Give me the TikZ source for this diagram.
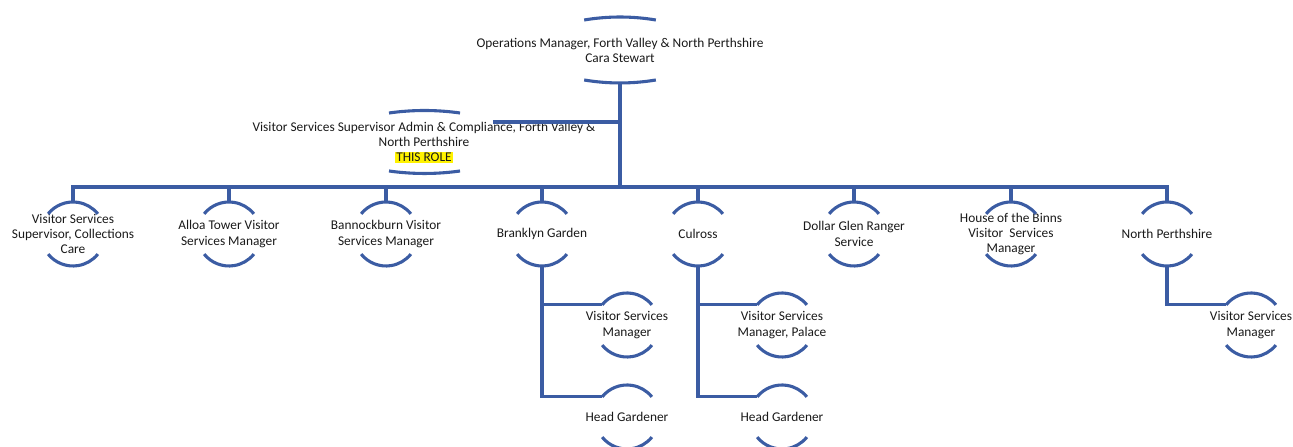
\documentclass[tikz,border=0pt]{standalone}
\usepackage{fontspec}
\setmainfont{Carlito}
\definecolor{chartblue}{RGB}{59,92,163}

\begin{document}
\begin{tikzpicture}[x=0.25mm,y=0.25mm,
  link/.style={draw=chartblue,line width=2.2pt},
  role/.style={align=center,font=\fontsize{9.5}{10.9}\selectfont,inner sep=0pt,text=black!90}]

  \useasboundingbox (0,0) rectangle (1293,447);

  % Top
  \node[role] (ops) at (620,396.5) {Operations Manager, Forth Valley \& North Perthshire\\Cara Stewart};
  \coordinate (opsb) at (620,364);
  \coordinate (hub) at (620,260);
  \draw[link] (584.2,427) arc[start angle=99.5,end angle=80.5,radius=54.25mm];
  \draw[link] (584.2,367) arc[start angle=260.5,end angle=279.5,radius=54.25mm];

  % Assistant
  \node[role] (asst) at (424,304.5) {Visitor Services Supervisor Admin \& Compliance, Forth Valley \&\\North Perthshire\\{\fboxsep=0.6pt\colorbox{yellow}{THIS ROLE}}};
  \coordinate (asstr) at (493,325);
  \draw[link] (389,334) arc[start angle=98,end angle=82,radius=63.8mm];
  \draw[link] (389,276) arc[start angle=262,end angle=278,radius=63.8mm];

  % Second level
  \node[role] (vsc) at (73,213) {Visitor Services\\Supervisor, Collections\\Care};
  \node[role] (alloa) at (229,213) {Alloa Tower Visitor\\Services Manager};
  \node[role] (bann) at (386,213) {Bannockburn Visitor\\Services Manager};
  \node[role] (brank) at (542,213) {Branklyn Garden};
  \node[role] (cul) at (698,213) {Culross};
  \node[role] (dollar) at (854,213) {Dollar Glen Ranger\\Service};
  \node[role] (binns) at (1011,213) {House of the Binns\\Visitor\ \ Services\\Manager};
  \node[role] (north) at (1167,213) {North Perthshire};

  % Third level
  \node[role] (bvsm) at (627,122) {Visitor Services\\Manager};
  \node[role] (bhg) at (627,30) {Head Gardener};
  \node[role] (cvsm) at (782,122) {Visitor Services\\Manager, Palace};
  \node[role] (chg) at (782,30) {Head Gardener};
  \node[role] (nvsm) at (1251,122) {Visitor Services\\Manager};

  % Arcs
  \foreach \n in {vsc,alloa,bann,brank,cul,dollar,binns,north,bvsm,bhg,cvsm,chg,nvsm} {
    \draw[link] ([shift={(141:8mm)}]\n.center) arc[start angle=141,end angle=39,radius=8mm];
    \draw[link] ([shift={(219:8mm)}]\n.center) arc[start angle=219,end angle=321,radius=8mm];
  }

  % Connectors
  \draw[link] (asstr) -- (asstr -| opsb);
  \foreach \n in {vsc,alloa,bann,brank,cul,dollar,binns,north}
    \draw[link] (opsb) -- (hub) -| ([yshift=8mm]\n.center);
  \draw[link] ([yshift=-8mm]brank.center) |- ([shift={(141:8mm)}]bvsm.center);
  \draw[link] ([yshift=-8mm]brank.center) |- ([shift={(141:8mm)}]bhg.center);
  \draw[link] ([yshift=-8mm]cul.center) |- ([shift={(141:8mm)}]cvsm.center);
  \draw[link] ([yshift=-8mm]cul.center) |- ([shift={(141:8mm)}]chg.center);
  \draw[link] ([yshift=-8mm]north.center) |- ([shift={(141:8mm)}]nvsm.center);

\end{tikzpicture}
\end{document}
